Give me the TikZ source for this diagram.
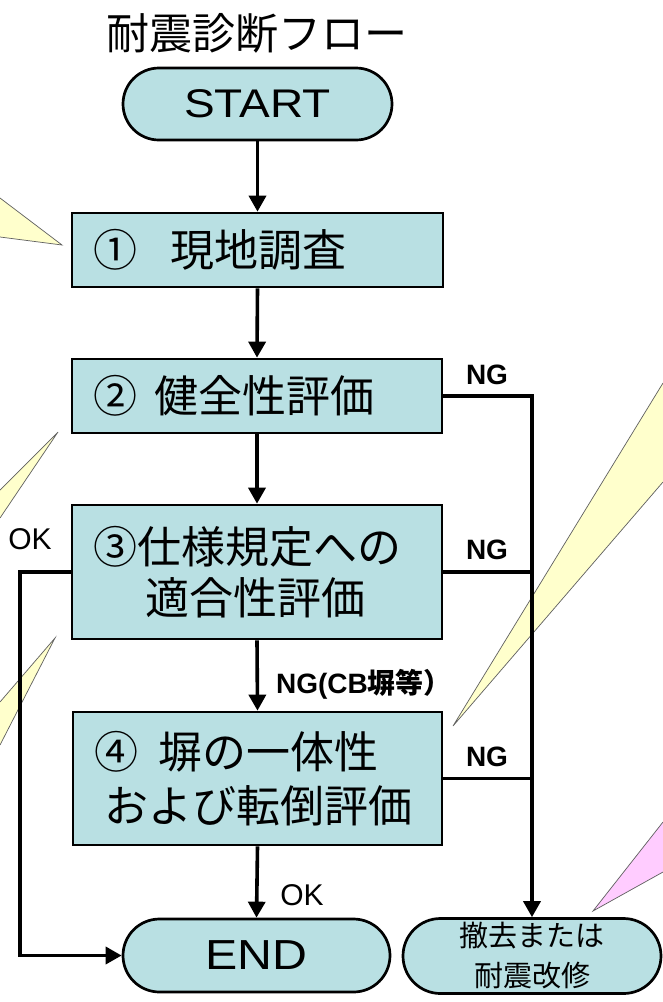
\documentclass[tikz,border=0pt]{standalone}
\usepackage{fontspec}
\newfontfamily\jp{Noto Sans CJK JP}
\newfontfamily\ar{Liberation Sans}
\newfontfamily\arw[FakeStretch=1.15]{Liberation Sans}
\usetikzlibrary{arrows.meta,shapes.misc}
\definecolor{boxfill}{RGB}{185,224,227}
\definecolor{callY}{RGB}{255,255,204}
\definecolor{callP}{RGB}{255,204,255}
\definecolor{callEdge}{RGB}{95,95,95}
\begin{document}
\begin{tikzpicture}[x=1pt,y=-1pt,
  procbox/.style={draw=black,line width=2.7pt,fill=boxfill,rectangle,inner ysep=0pt,inner xsep=21pt,align=left,font=\jp\fontsize{44}{52}\selectfont},
  term/.style={draw=black,line width=2.7pt,fill=boxfill,rounded rectangle,inner sep=0pt,align=center},
  conn/.style={line width=3.6pt},
  arr/.style={conn,-{Triangle[length=16pt,width=17pt]}},
  lbl/.style={font=\ar\bfseries\fontsize{28}{32}\selectfont,inner sep=0pt},
  okl/.style={font=\ar\fontsize{30}{34}\selectfont,inner sep=0pt},
  edgeline/.style={draw=callEdge,line width=0.7pt}
]
\useasboundingbox (0,0) rectangle (663,1002);
\fill[white] (0,0) rectangle (663,1002);

% callout pointers
\fill[callY] (0,198) -- (62,245) -- (0,237) -- cycle;
\draw[edgeline] (0,198) -- (62,245) -- (0,237);
\fill[callY] (0,490) -- (58,432) -- (0,518) -- cycle;
\draw[edgeline] (0,490) -- (58,432) -- (0,518);
\fill[callY] (0,702) -- (55,638) -- (0,745) -- cycle;
\draw[edgeline] (0,702) -- (55,638) -- (0,745);
\fill[callY] (663,383) -- (453,726) -- (663,482) -- cycle;
\draw[edgeline] (663,383) -- (453,726) -- (663,482);
\fill[callP] (663,822) -- (593,911) -- (663,872) -- cycle;
\draw[edgeline] (663,822) -- (593,911) -- (663,872);

% title
\node[inner sep=0pt,font=\jp\fontsize{43}{50}\selectfont] (title) at (257,33) {耐震診断フロー};

% nodes
\node[term,minimum width=269pt,minimum height=72pt,font=\arw\fontsize{40}{48}\selectfont] (start) at (257.5,104) {START};
\node[procbox,text width=329pt,minimum height=74pt] (b1) at (257.5,250)
  {\raisebox{-4pt}{①\hspace{33pt}現地調査}};
\node[procbox,text width=328pt,minimum height=74pt] (b2) at (257,396)
  {\raisebox{-4pt}{②\hspace{18pt}健全性評価}};
\node[procbox,text width=328pt,minimum height=134pt,font=\jp\fontsize{44}{51}\selectfont] (b3) at (257,572)
  {③仕様規定への\\\hspace*{52pt}適合性評価};
\node[procbox,text width=327pt,minimum height=133pt,font=\jp\fontsize{44}{54}\selectfont] (b4) at (257.5,778.5)
  {④\hspace{21pt}塀の一体性\\\hspace*{10pt}および転倒評価};
\node[term,minimum width=267pt,minimum height=73pt,font=\arw\fontsize{42}{48}\selectfont] (end) at (256.5,955.5) {END};
\node[term,minimum width=258pt,minimum height=75pt,font=\jp\fontsize{29}{40}\selectfont] (rem) at (532,956)
  {撤去または\\耐震改修};

% labels
\node[lbl] (ng1) at (487,375) {NG};
\node[lbl] (ng2) at (487,550) {NG};
\node[lbl] (ng3) at (487,757) {NG};
\node[lbl] (ngcb) at (364,684) {NG(CB{\jp 塀等）}};
\node[okl] (okl) at (30,539) {OK};
\node[okl] (okb) at (302,895) {OK};

% connectors
\coordinate (lx) at (20,0);
\draw[arr] (start.south) -- (b1.north);
\draw[arr] (b1.south) -- (b2.north);
\draw[arr] (b2.south) -- (b3.north);
\draw[arr] (b3.south) -- (b4.north);
\draw[arr] (b4.south) -- (end.north);
\draw[arr] (b2.east) -- (b2.east -| rem.north) -- (rem.north);
\draw[conn] (b3.east) -- (b3.east -| rem.north);
\draw[conn] (b4.east) -- (b4.east -| rem.north);
\draw[arr] (b3.west) -- (b3.west -| lx) |- (end.west);
\end{tikzpicture}
\end{document}
